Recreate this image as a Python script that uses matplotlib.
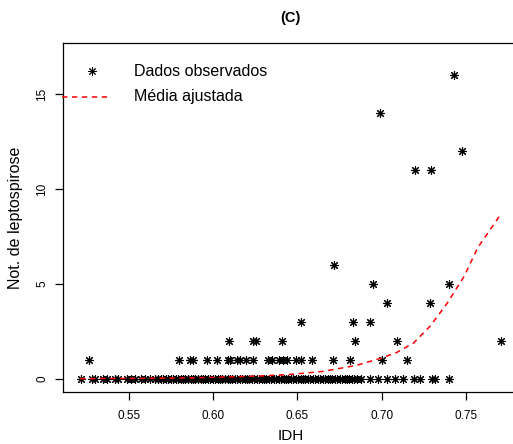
import matplotlib

matplotlib.use("Agg")
import matplotlib.pyplot as plt
from matplotlib.lines import Line2D

plt.rcParams["font.family"] = ["Liberation Sans", "DejaVu Sans"]

idh_zero = [
    0.5213, 0.5278, 0.5298, 0.5346, 0.5369, 0.5417, 0.5435, 0.5488, 0.5512,
    0.5536, 0.5570, 0.5595, 0.5625, 0.5654,
    0.5672, 0.5688, 0.5701, 0.5719, 0.5733, 0.5748, 0.5760, 0.5777, 0.5791,
    0.5806, 0.5820, 0.5834, 0.5851, 0.5866, 0.5879, 0.5893, 0.5908, 0.5925,
    0.5940, 0.5952, 0.5968, 0.5983, 0.5997, 0.6012, 0.6026, 0.6041, 0.6055,
    0.6070, 0.6085, 0.6099, 0.6113, 0.6128, 0.6142, 0.6157, 0.6171, 0.6186,
    0.6200, 0.6215, 0.6229, 0.6244, 0.6258, 0.6273, 0.6287, 0.6302, 0.6316,
    0.6331, 0.6345, 0.6360, 0.6374, 0.6389, 0.6403, 0.6418, 0.6432, 0.6447,
    0.6461, 0.6476, 0.6490, 0.6505, 0.6519, 0.6534, 0.6548, 0.6563, 0.6577,
    0.6592, 0.6606, 0.6621, 0.6635, 0.6650, 0.6664, 0.6679, 0.6693, 0.6708,
    0.6722, 0.6737, 0.6751, 0.6766, 0.6780, 0.6795, 0.6809, 0.6824, 0.6838,
    0.6853, 0.688, 0.693, 0.698, 0.703, 0.708, 0.713, 0.719, 0.723, 0.730,
    0.732, 0.740,
]
idh_one = [
    0.5264, 0.5799, 0.5862, 0.5878, 0.5961, 0.6021, 0.6090, 0.6100, 0.6140,
    0.6159, 0.6195, 0.6238, 0.6327, 0.6347, 0.6393, 0.6413, 0.6440, 0.6492,
    0.6520, 0.6585, 0.6710, 0.6812, 0.7001, 0.7149,
]
idh_two = [0.6094, 0.6235, 0.6254, 0.6407, 0.6842, 0.7090, 0.7707]
idh_high = [0.652, 0.6830, 0.6929, 0.7032, 0.7289, 0.6949, 0.7402, 0.6719,
            0.7200, 0.7292, 0.7479, 0.6990, 0.7430]
notif_high = [3, 3, 3, 4, 4, 5, 5, 6, 11, 11, 12, 14, 16]

# --- fitted mean curve ---
fit_idh = [0.521, 0.545, 0.575, 0.600, 0.630, 0.645, 0.665, 0.685, 0.699,
           0.709, 0.719, 0.729, 0.739, 0.749, 0.757, 0.764, 0.771]
fit_mean = [0.02, 0.03, 0.05, 0.09, 0.17, 0.24, 0.40, 0.72, 1.08,
            1.40, 1.90, 2.80, 4.00, 5.40, 6.90, 7.80, 8.70]

x_ticks = [0.55, 0.60, 0.65, 0.70, 0.75]
y_ticks = [0, 5, 10, 15]
legend_labels = ["Dados observados", "Média ajustada"]

idh = idh_zero + idh_one + idh_two + idh_high
notif = [0] * len(idh_zero) + [1] * len(idh_one) + [2] * len(idh_two) + notif_high

W, H = 513, 444
fig = plt.figure(figsize=(W / 100, H / 100), dpi=100)
ax = fig.add_axes([63 / W, 52 / H, 455 / W, 349 / H])

star = (8, 2, 0)
ax.plot(idh, notif, linestyle="none", marker=star, markersize=6.3,
        markeredgewidth=0.8, color="black")
ax.plot(fit_idh, fit_mean, color="red", linewidth=1.1, dashes=(3.5, 3))

ax.set_xlim(0.5108, 0.7810)
ax.set_ylim(-0.68, 17.68)
ax.set_xticks(x_ticks)
ax.set_xticklabels([f"{v:.2f}" for v in x_ticks])
ax.set_yticks(y_ticks)
ax.spines["right"].set_visible(False)
for s in ["left", "bottom", "top"]:
    ax.spines[s].set_linewidth(0.9)
ax.tick_params(direction="out", length=5.8, width=0.9, labelsize=8.5)
ax.tick_params(axis="x", pad=7)
ax.tick_params(axis="y", pad=5)
for lab in ax.get_yticklabels():
    lab.set_rotation(90)
    lab.set_va("center")

ax.set_xlabel("IDH", fontsize=11, labelpad=5)
ax.set_ylabel("Not. de leptospirose", fontsize=11.5, labelpad=9)
ax.set_title("(C)", fontsize=10.5, fontweight="bold", pad=15)

# legend drawn by hand, in figure pixels (R-style: marker off-centre of the line)
fx = lambda px: px / W
fy = lambda py: 1 - py / H
fig.add_artist(Line2D([fx(92)], [fy(71)], linestyle="none", marker=star,
                      markersize=6, markeredgewidth=0.7, color="black"))
fig.add_artist(Line2D([fx(62), fx(108)], [fy(97), fy(97)], color="red",
                      linewidth=1.1, dashes=(3.5, 3)))
for row, text in zip([71, 97], legend_labels):
    fig.text(fx(134), fy(row), text, fontsize=11.5, va="center", ha="left")

fig.savefig("out.png", dpi=100)
